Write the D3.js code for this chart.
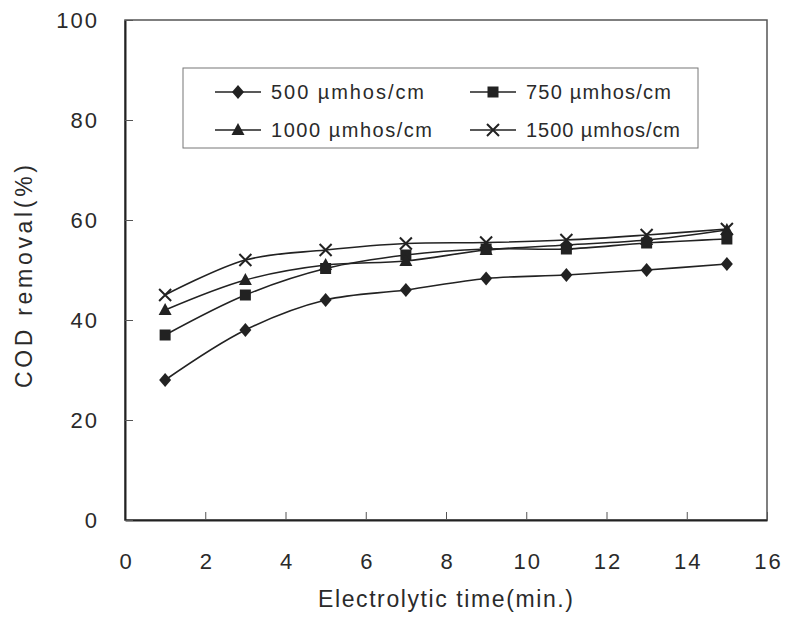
<!DOCTYPE html>
<html><head><meta charset="utf-8">
<script src="https://cdn.jsdelivr.net/npm/d3@7"></script>
<style>body{margin:0;background:#fff}svg{display:block}</style>
</head><body>
<svg id="c" width="788" height="618"></svg>
<script>
const times = [1, 3, 5, 7, 9, 11, 13, 15];
const s500  = [28, 38, 44, 46, 48.3, 49, 50, 51.2];
const s750  = [37, 45, 50.3, 53, 54.2, 54.2, 55.4, 56.2];
const s1000 = [42, 48, 51, 51.8, 54, 55, 56, 58];
const s1500 = [45, 52, 54, 55.3, 55.5, 56, 57, 58.2];
const seriesNames = ["500 µmhos/cm", "750 µmhos/cm", "1000 µmhos/cm", "1500 µmhos/cm"];
const markerTypes = ["diamond", "square", "triangle", "cross"];
const xTicks = [0, 2, 4, 6, 8, 10, 12, 14, 16];
const yTicks = [0, 20, 40, 60, 80, 100];

const series = [s500, s750, s1000, s1500].map((v, i) => ({name: seriesNames[i], marker: markerTypes[i], values: v}));

const svg = d3.select("#c");
const L = 125, R = 767, T = 20, B = 520;
const x = d3.scaleLinear().domain([0, 16]).range([L, R]);
const y = d3.scaleLinear().domain([0, 100]).range([B, T]);
const ink = "#222";
const font = "'Liberation Sans', Arial, sans-serif";

// frame
svg.append("rect").attr("x", L).attr("y", T).attr("width", R - L).attr("height", B - T)
  .attr("fill", "none").attr("stroke", "#555").attr("stroke-width", 1.5);

// axes with inner ticks
const xAxis = svg.append("g").attr("transform", `translate(0,${B})`)
  .call(d3.axisBottom(x).tickValues(xTicks).tickSizeInner(-8).tickSizeOuter(0).tickPadding(33));
const yAxis = svg.append("g").attr("transform", `translate(${L},0)`)
  .call(d3.axisLeft(y).tickValues(yTicks).tickSizeInner(-8).tickSizeOuter(0).tickPadding(26));
[xAxis, yAxis].forEach(a => {
  a.select(".domain").attr("stroke", ink).attr("stroke-width", 2);
  a.selectAll(".tick line").attr("stroke", "#555");
  a.selectAll(".tick text").attr("fill", "#2a2a2a").style("font-family", font).style("font-size", "22px")
    .style("letter-spacing", "2px");
});
xAxis.selectAll(".tick text").attr("dy", "0.71em").attr("dx", "1px");
yAxis.selectAll(".tick text").attr("dy", "0.35em");

// axis titles
svg.append("text").attr("x", 318).attr("y", 607)
  .attr("textLength", 255).attr("lengthAdjust", "spacing")
  .attr("fill", "#2a2a2a").style("font-family", font).style("font-size", "23px").text("Electrolytic time(min.)");
svg.append("text").attr("transform", `translate(32,388) rotate(-90)`)
  .attr("textLength", 223).attr("lengthAdjust", "spacing")
  .attr("fill", "#2a2a2a").style("font-family", font).style("font-size", "23px").text("COD removal(%)");

function drawMarker(g, type, cx, cy) {
  if (type === "diamond") {
    g.append("path").attr("d", `M${cx},${cy-7}L${cx+6},${cy}L${cx},${cy+7}L${cx-6},${cy}Z`).attr("fill", ink);
  } else if (type === "square") {
    g.append("rect").attr("x", cx - 5.5).attr("y", cy - 5.5).attr("width", 11).attr("height", 11).attr("fill", ink);
  } else if (type === "triangle") {
    g.append("path").attr("d", `M${cx},${cy-7}L${cx+6.5},${cy+5}L${cx-6.5},${cy+5}Z`).attr("fill", ink);
  } else {
    g.append("path").attr("d", `M${cx-6},${cy-6}L${cx+6},${cy+6}M${cx+6},${cy-6}L${cx-6},${cy+6}`)
      .attr("stroke", ink).attr("stroke-width", 2).attr("fill", "none");
  }
}

const line = d3.line().x((d, i) => x(times[i])).y(d => y(d)).curve(d3.curveCatmullRom.alpha(0.5));
series.forEach(s => {
  const g = svg.append("g");
  g.append("path").attr("d", line(s.values)).attr("fill", "none").attr("stroke", ink).attr("stroke-width", 1.6);
  s.values.forEach((v, i) => drawMarker(g, s.marker, x(times[i]), y(v)));
});

// legend
svg.append("rect").attr("x", 183).attr("y", 68).attr("width", 515).attr("height", 80)
  .attr("fill", "#fff").attr("stroke", "#777").attr("stroke-width", 1);
const legPos = [[215, 92], [470, 92], [215, 130], [470, 130]];
const legLen = [153, 145, 161, 154];
series.forEach((s, i) => {
  const [lx, ly] = legPos[i];
  const g = svg.append("g");
  g.append("line").attr("x1", lx).attr("x2", lx + 46).attr("y1", ly).attr("y2", ly).attr("stroke", ink).attr("stroke-width", 1.6);
  drawMarker(g, s.marker, lx + 23, ly);
  g.append("text").attr("x", lx + 56).attr("y", ly).attr("dy", "0.36em").attr("fill", "#2a2a2a")
    .attr("textLength", legLen[i]).attr("lengthAdjust", "spacing")
    .style("font-family", font).style("font-size", "20px").text(s.name);
});
</script>
</body></html>
